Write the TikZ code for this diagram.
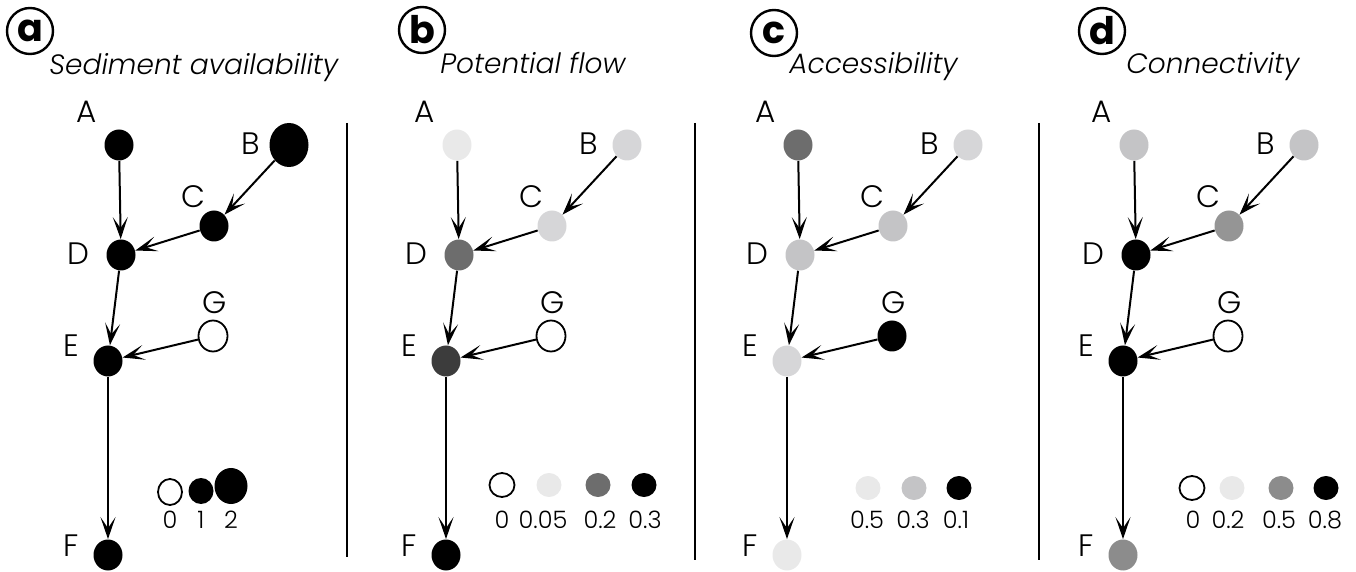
\documentclass[tikz,border=0pt]{standalone}
\usepackage{fontspec}
\setmainfont{Poppins Light}[ItalicFont=Poppins Light Italic, BoldFont=Poppins Bold]
\usetikzlibrary{shapes.geometric,arrows.meta}
\definecolor{gA}{HTML}{E9E9E9}
\definecolor{gB}{HTML}{D6D6D8}
\definecolor{gC}{HTML}{C4C4C6}
\definecolor{gD}{HTML}{959595}
\definecolor{gE}{HTML}{8C8C8C}
\definecolor{gF}{HTML}{6D6D6D}
\definecolor{gG}{HTML}{3C3C3C}
\tikzset{
 nd/.style={ellipse, inner sep=0pt, minimum width=14.5pt, minimum height=15.5pt},
 opennd/.style={draw=black, line width=0.9pt, fill=white},
 lbl/.style={font=\fontsize{15.5}{17}\selectfont, inner sep=0pt},
 arr/.style={line width=1pt, -{Stealth[length=11pt,width=7.5pt,inset=5.5pt]}},
 sepline/.style={line width=1pt},
 tcirc/.style={circle, draw, line width=1.2pt, minimum size=23pt, inner sep=0pt, font=\fontsize{19}{20}\selectfont\bfseries},
 ttl/.style={anchor=base west, inner sep=0pt, font=\fontsize{14}{16}\selectfont\itshape},
 leg/.style={ellipse, inner sep=0pt, minimum width=12.5pt, minimum height=12pt},
 legt/.style={font=\fontsize{12}{13}\selectfont, inner sep=0pt},
}
\newcommand\netpanel[9]{%
\begin{scope}[xshift=#2*0.5pt]
\node[nd,#3] (#1A) at (119,145) {};
\node[nd,#4] (#1B) at (289,145) {};
\node[nd,#5] (#1C) at (214,226) {};
\node[nd,#6] (#1D) at (121,255) {};
\node[nd,#7] (#1E) at (108,361) {};
\node[nd,#8] (#1F) at (108,555) {};
\node[nd,#9] (#1G) at (213,336) {};
\node[lbl] (#1lA) at (87,112) {A};
\node[lbl] (#1lB) at (251,144) {B};
\node[lbl] (#1lC) at (193,197) {C};
\node[lbl] (#1lD) at (78,254) {D};
\node[lbl] (#1lE) at (71,346) {E};
\node[lbl] (#1lF) at (71,546) {F};
\node[lbl] (#1lG) at (215,303) {G};
\draw[arr] (#1A) -- (#1D);
\draw[arr] (#1B) -- (#1C);
\draw[arr] (#1C) -- (#1D);
\draw[arr] (#1D) -- (#1E);
\draw[arr] (#1G) -- (#1E);
\draw[arr] (#1E) -- (#1F);
\end{scope}}
\begin{document}
\begin{tikzpicture}[x=0.5pt,y=-0.5pt]
\useasboundingbox (0,0) rectangle (1356,572);
% titles
\node[tcirc] (ta) at (30,31) {a};
\node[ttl] (tta) at (49,75) {Sediment availability};
\node[tcirc] (tb) at (422,30) {b};
\node[ttl] (ttb) at (440,74) {Potential flow};
\node[tcirc] (tc) at (774,33) {c};
\node[ttl] (ttc) at (789,74) {Accessibility};
\node[tcirc] (td) at (1102,31) {d};
\node[ttl] (ttd) at (1126,74) {Connectivity};
% separators
\coordinate (s1a) at (347,123); \coordinate (s1b) at (347,557);
\coordinate (s2a) at (695,123); \coordinate (s2b) at (695,560);
\coordinate (s3a) at (1039,123); \coordinate (s3b) at (1039,560);
\draw[sepline] (s1a) -- (s1b);
\draw[sepline] (s2a) -- (s2b);
\draw[sepline] (s3a) -- (s3b);
% panels
\netpanel{a}{0}{fill=black}{fill=black,minimum width=19.5pt,minimum height=22pt}{fill=black}{fill=black}{fill=black}{fill=black}{opennd}
\netpanel{b}{338}{fill=gA}{fill=gB}{fill=gB}{fill=gF}{fill=gG}{fill=black}{opennd}
\netpanel{c}{679}{fill=gF}{fill=gB}{fill=gC}{fill=gC}{fill=gB}{fill=gA}{fill=black}
\netpanel{d}{1015}{fill=gC}{fill=gC}{fill=gD}{fill=black}{fill=black}{fill=gE}{opennd}
% legend a
\node[ellipse,inner sep=0pt,minimum width=12pt,minimum height=13pt,opennd] (la0) at (170,492) {};
\node[ellipse,inner sep=0pt,minimum width=12.5pt,minimum height=13pt,fill=black] (la1) at (201,491) {};
\node[ellipse,inner sep=0pt,minimum width=16.5pt,minimum height=18pt,fill=black] (la2) at (231,486) {};
\node[legt] (lta0) at (170,520) {0};
\node[legt] (lta1) at (201,520) {1};
\node[legt] (lta2) at (231,520) {2};
% legend b
\node[leg,opennd] (lb0) at (502,485) {};
\node[leg,fill=gA] (lb1) at (549,485) {};
\node[leg,fill=gF] (lb2) at (598,485) {};
\node[leg,fill=black] (lb3) at (644,485) {};
\node[legt] (ltb0) at (502,520) {0};
\node[legt] (ltb1) at (543,520) {0.05};
\node[legt] (ltb2) at (600,520) {0.2};
\node[legt] (ltb3) at (645,520) {0.3};
% legend c
\node[leg,fill=gA] (lc0) at (868,488) {};
\node[leg,fill=gC] (lc1) at (914,488) {};
\node[leg,fill=black] (lc2) at (959,488) {};
\node[legt] (ltc0) at (867,520) {0.5};
\node[legt] (ltc1) at (913,520) {0.3};
\node[legt] (ltc2) at (956,520) {0.1};
% legend d
\node[leg,opennd] (ld0) at (1192,488) {};
\node[leg,fill=gA] (ld1) at (1232,488) {};
\node[leg,fill=gE] (ld2) at (1281,488) {};
\node[leg,fill=black] (ld3) at (1326,488) {};
\node[legt] (ltd0) at (1193,520) {0};
\node[legt] (ltd1) at (1228,520) {0.2};
\node[legt] (ltd2) at (1279,520) {0.5};
\node[legt] (ltd3) at (1325,520) {0.8};
\end{tikzpicture}
\end{document}
